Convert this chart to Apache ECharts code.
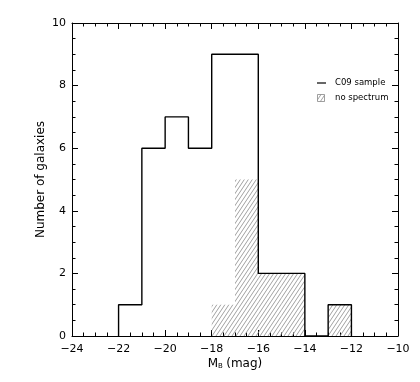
<!DOCTYPE html>
<html><head><meta charset="utf-8">
<script src="https://cdn.jsdelivr.net/npm/echarts@6/dist/echarts.min.js"></script>
<style>html,body{margin:0;padding:0;background:#fff}#c{width:420px;height:382px}</style>
</head><body><div id="c"></div>
<script>
// ---- data ----
const binStarts = [-22, -21, -20, -19, -18, -17, -16, -15, -14, -13];
const binWidth = 1;
const c09Counts = [1, 6, 7, 6, 9, 9, 2, 2, 0, 1];
const noSpectrumCounts = [0, 0, 0, 0, 1, 5, 2, 2, 0, 1];
const xTicks = [-24, -22, -20, -18, -16, -14, -12, -10];
const yTicks = [0, 2, 4, 6, 8, 10];

// step outline points from bins
const stepPts = [[binStarts[0], 0]];
binStarts.forEach((s, i) => { stepPts.push([s, c09Counts[i]]); stepPts.push([s + binWidth, c09Counts[i]]); });
stepPts.push([binStarts[binStarts.length - 1] + binWidth, 0]);

const hatchData = binStarts.map((s, i) => [s, s + binWidth, noSpectrumCounts[i]]).filter(d => d[2] > 0);

// hatch pattern
function makeHatch() {
  const w = 4, h = 6, cv = document.createElement('canvas');
  cv.width = w; cv.height = h;
  const g = cv.getContext('2d');
  g.strokeStyle = '#969696'; g.lineWidth = 0.9;
  g.beginPath();
  g.moveTo(0, h); g.lineTo(w, 0);
  g.moveTo(-w, h); g.lineTo(0, 0);
  g.moveTo(w, h); g.lineTo(2 * w, 0);
  g.stroke();
  return cv;
}
const hatch = { image: makeHatch(), repeat: 'repeat' };

const fmt = v => (v < 0 ? '\u2212' : '') + Math.abs(v);
const font = 'DejaVu Sans';

const chart = echarts.init(document.getElementById('c'), null, { renderer: 'canvas' });
const axisCommon = () => ({
  axisLine: { show: true, onZero: false, lineStyle: { color: '#000', width: 1 } },
  axisTick: { show: true, inside: true, length: 6, lineStyle: { color: '#000' } },
  minorTick: { show: true, splitNumber: 4, length: 3.5, lineStyle: { color: '#000' } },
  splitLine: { show: false }
});
chart.setOption({
  animation: false,
  grid: { left: 72, right: 22, top: 23, bottom: 46 },
  xAxis: [
    Object.assign({
      type: 'value', min: xTicks[0], max: xTicks[xTicks.length - 1], interval: 2, position: 'bottom',
      name: '{m|M}{s|B} {m|(mag)}', nameLocation: 'middle', nameGap: 22, nameMoveOverlap: false,
      nameTextStyle: { rich: { m: { fontFamily: font, fontSize: 12, color: '#000' }, s: { fontFamily: font, fontSize: 7, color: '#000', padding: [5, 0, 0, 0] } } },
      axisLabel: { formatter: fmt, fontFamily: font, fontSize: 11, color: '#000', margin: 8 }
    }, axisCommon()),
    Object.assign({
      type: 'value', min: xTicks[0], max: xTicks[xTicks.length - 1], interval: 2, position: 'top',
      axisLabel: { show: false }
    }, axisCommon())
  ],
  yAxis: [
    Object.assign({
      type: 'value', min: yTicks[0], max: yTicks[yTicks.length - 1], interval: 2, position: 'left',
      name: 'Number of galaxies', nameLocation: 'middle', nameGap: 25, nameMoveOverlap: false,
      nameTextStyle: { fontFamily: font, fontSize: 12, color: '#000' },
      axisLabel: { fontFamily: font, fontSize: 11, color: '#000', margin: 6 }
    }, axisCommon()),
    Object.assign({
      type: 'value', min: yTicks[0], max: yTicks[yTicks.length - 1], interval: 2, position: 'right',
      axisLabel: { show: false }
    }, axisCommon())
  ],
  series: [
    {
      name: 'no spectrum', type: 'custom', xAxisIndex: 0, yAxisIndex: 0, data: hatchData,
      renderItem: (params, api) => {
        const p0 = api.coord([api.value(0), api.value(2)]);
        const p1 = api.coord([api.value(1), 0]);
        return { type: 'rect', shape: { x: p0[0], y: p0[1], width: p1[0] - p0[0], height: p1[1] - p0[1] }, style: { fill: hatch, stroke: null } };
      },
      z: 1
    },
    {
      name: 'C09 sample', type: 'line', data: stepPts, showSymbol: false, symbol: 'none',
      lineStyle: { color: '#000', width: 1.4 }, z: 3
    }
  ],
  graphic: [
    { type: 'line', shape: { x1: 317, y1: 83, x2: 326, y2: 83 }, style: { stroke: '#000', lineWidth: 1.2 } },
    { type: 'text', left: 335, top: 78, style: { text: 'C09 sample', font: '8.5px ' + font, fill: '#000' } },
    { type: 'rect', shape: { x: 317.5, y: 94.5, width: 7, height: 7 }, style: { fill: hatch, stroke: '#888', lineWidth: 0.8 } },
    { type: 'text', left: 335, top: 93, style: { text: 'no spectrum', font: '8.5px ' + font, fill: '#000' } }
  ]
});
</script></body></html>
